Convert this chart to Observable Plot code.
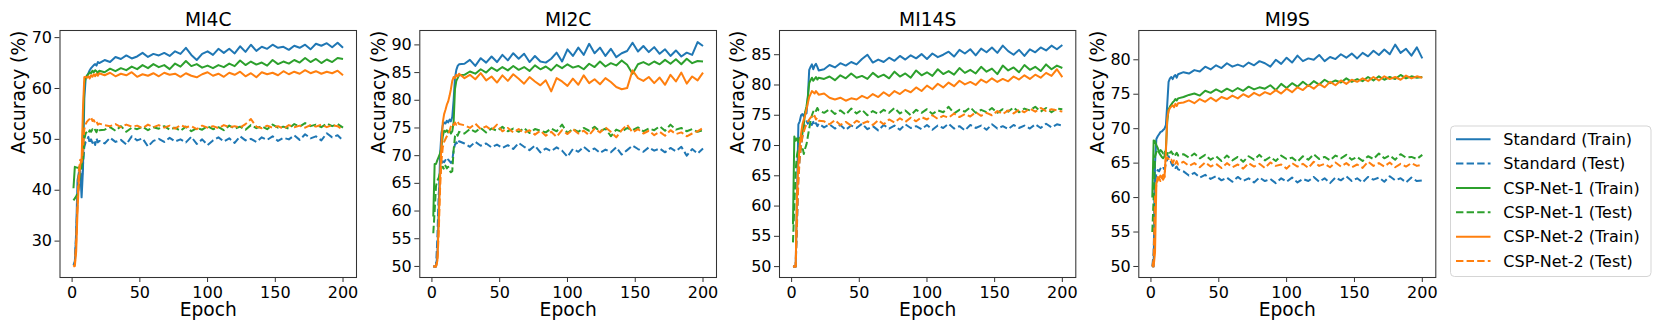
<!DOCTYPE html>
<html>
<head>
<meta charset="utf-8">
<script src="https://cdn.jsdelivr.net/npm/d3@7"></script>
<script src="https://cdn.jsdelivr.net/npm/@observablehq/plot@0.6"></script>
<style>
  body { margin: 0; background: #fff; font-family: "DejaVu Sans", sans-serif; }
  #root { position: relative; width: 1661px; height: 332px; overflow: hidden; background: #fff; }
  .panel { position: absolute; top: 0; }
  #legend { position: absolute; left: 1440px; top: 116px; }
</style>
</head>
<body>
<div id="root"></div>
<script>
// ---------- data ----------
const EPOCHS = [1,2,3,4,5,6,7,8,9,10,11,12,13,14,15,16,17,18,19,20,
  24,28,32,36,40,44,48,52,56,60,64,68,72,76,80,84,88,92,96,100,
  104,108,112,116,120,124,128,132,136,140,144,148,152,156,160,164,168,172,176,180,
  184,188,192,196,200];

const PANEL_TITLES = ["MI4C", "MI2C", "MI14S", "MI9S"];
const SERIES_NAMES = ["Standard (Train)", "Standard (Test)", "CSP-Net-1 (Train)", "CSP-Net-1 (Test)", "CSP-Net-2 (Train)", "CSP-Net-2 (Test)"];
const X_TICKS = [0, 50, 100, 150, 200];
const Y_TICKS_MI4C = [30, 40, 50, 60, 70];
const Y_TICKS_MI2C = [50, 55, 60, 65, 70, 75, 80, 85, 90];
const Y_TICKS_MI14S = [50, 55, 60, 65, 70, 75, 80, 85];
const Y_TICKS_MI9S = [50, 55, 60, 65, 70, 75, 80];

// MI4C
const mi4c_stdTrain = [25.3,25.5,32,42,43.5,43.8,38.6,44,58,62,62.5,63,63.6,64,64.3,64.6,64.8,64.5,65.2,65.0,
  65.6,65.2,66.2,65.8,66.5, 65.9,66.3,67.0,66.2,66.8, 66.5,67.0,66.4,67.3,66.8, 68.0,66.6,65.6,66.8,67.3,
  66.6,67.8,67.0,67.8,66.9, 68.3,67.2,68.6,67.4,68.2, 67.8,68.6,68.0,68.2,67.6, 68.4,68.0,68.6,67.7,68.8, 68.4,68.9,68.1,69.0,68.0];
const mi4c_stdTest = [25.3,26,31,38,41,43,42,45,48.5,49.5,49.8,50.5,49.2,50.0,49.3,49.8,48.9,50.2,49.4,49.7,
  49.2,50.3,49.5,49.9,49.0, 50.6,49.8,50.2,48.6,49.7, 50.1,49.5,50.3,49.6,50.0, 49.4,50.5,49.1,50.0,48.9,
  49.8,50.4,49.6,50.2,49.3, 50.6,49.8,50.1,49.5,50.4, 49.9,50.6,49.7,50.3,50.0, 50.8,49.9,51.0,50.2,50.6, 49.8,51.2,50.4,50.8,49.8];
const mi4c_c1Train = [40.4,44.6,44.5,44.4,44.5,44.2,44.4,52,61,62,62.5,62.8,63.2,63.0,63.5,63.2,63.6,63.4,63.0,63.5,
  63.2,63.9,63.4,64.0,63.6, 64.3,63.8,64.6,64.0,64.8, 64.2,64.6,63.8,64.9,64.3, 65.4,64.4,64.8,64.1,64.5,
  64.0,64.6,64.2,64.9,64.4, 65.5,64.6,65.3,64.7,65.1, 64.5,65.6,64.8,65.3,64.9, 65.6,65.1,66.0,65.2,65.8, 65.0,65.7,65.2,66.0,65.8];
const mi4c_c1Test = [38,38.4,38.8,39.5,41,44,45.5,46,50,51.2,51.5,51.2,51.8,51.5,52.0,51.6,51.9,51.4,52.2,51.8,
  51.9,52.4,51.7,52.6,51.5, 52.3,52.0,52.5,51.8,52.4, 52.1,52.6,51.9,52.3,51.7, 52.5,51.6,52.2,51.9,52.6,
  52.0,52.4,51.8,52.7,52.1, 52.5,51.9,52.8,52.2,52.6, 52.0,52.9,52.3,52.5,52.1, 53.0,52.5,53.2,52.6,52.9, 52.4,53.1,52.6,53.0,52.3];
const mi4c_c2Train = [25,25.1,28,36,42,45,46,56,62.2,62.3,62.1,62.4,62.0,62.6,62.3,62.8,62.4,62.9,62.5,63.0,
  62.6,63.1,62.4,62.9,62.6, 63.2,62.3,62.8,62.5,63.0, 62.4,63.1,62.7,62.9,62.3, 63.0,62.5,62.2,62.8,63.2,
  62.5,62.9,62.3,63.1,62.7, 63.3,62.4,63.0,62.2,63.2, 62.8,63.1,62.6,63.4,62.8, 63.3,62.9,63.6,63.0,63.4, 62.9,63.3,63.0,63.5,62.6];
const mi4c_c2Test = [25,25.4,30,38,44,46,45.5,48,52,53.0,53.5,53.8,54.0,54.4,53.6,53.8,53.2,53.5,52.9,53.1,
  52.8,52.6,53.0,52.4,52.9, 52.5,52.7,52.2,52.9,52.4, 52.8,52.3,52.7,52.1,52.8, 52.4,52.6,52.0,52.7,52.3,
  52.6,52.2,52.8,52.4,52.6, 52.3,53.0,54.0,52.5,52.2, 52.7,52.3,52.6,52.1,52.8, 52.4,52.7,52.3,52.8,52.5, 52.9,52.4,52.8,52.6,51.8];

// MI2C
const mi2c_stdTrain = [50,50,50,52,60,70,74,75.5,76,75.8,76.3,76.0,76.5,76.2,77,80,84,85.5,86.2,86.5,
  86.6,87.3,86.2,87.6,86.8, 87.9,86.9,88.2,87.2,88.5, 87.5,88.4,86.9,88.0,87.0, 86.8,87.5,88.6,87.0,89.2,
  88.0,89.5,88.2,90.2,88.5, 89.5,88.0,89.3,87.8,88.5, 88.9,90.4,88.8,89.8,88.7, 89.6,88.4,89.2,88.0,89.0, 87.9,88.6,88.2,90.5,89.8];
const mi2c_stdTest = [50,50,50,55,63,66,68.5,69,68.8,69.2,68.9,69.3,69.0,68.7,69.1,71,72,72.4,72.0,72.6,
  72.2,71.6,72.5,71.8,72.2, 71.5,72.0,71.4,71.9,71.2, 72.3,71.6,71.0,71.8,70.6, 71.3,70.8,71.5,70.9,69.8,
  71.2,70.7,71.6,70.8,71.3, 70.5,71.1,70.6,71.5,70.2, 71.0,71.8,71.2,70.7,71.5, 70.9,71.3,70.6,71.4,70.8, 71.6,70.0,71.2,70.4,71.3];
const mi2c_c1Train = [59,68.5,68.5,69.2,69.8,70.4,71.5,73.5,74.5,74.3,74.6,74.2,74.5,74.0,74.4,76,82,83.5,84.0,84.5,
  84.6,85.2,84.8,85.6,85.0, 85.9,85.3,86.0,85.4,86.2, 85.5,86.0,85.3,86.3,85.6, 86.1,85.4,86.4,85.8,86.5,
  85.9,86.2,85.6,86.6,86.0, 87.0,86.1,86.7,86.3,87.2, 86.4,84.8,86.5,86.9,86.4, 87.0,86.5,87.3,86.6,87.4, 86.5,87.5,86.7,87.1,87.0];
const mi2c_c1Test = [56,60,64.5,65.5,66,67,67.8,68,67.5,68.2,67.7,68.0,67.3,67.0,67.2,71,73.5,74.0,73.6,74.3,
  74.0,74.8,74.3,75.0,74.2, 74.9,74.5,75.2,74.4,74.9, 74.3,75.0,74.1,74.8,74.5, 74.2,74.9,74.4,75.6,74.1,
  74.8,74.3,75.0,74.5,75.2, 74.4,74.9,73.5,74.7,74.3, 75.0,74.6,75.1,74.4,74.9, 74.6,75.3,74.5,75.6,74.7, 75.0,74.4,74.8,74.3,74.6];
const mi2c_c2Train = [50,50,50,51,58,66,72,76,77.5,78.3,79.2,79.8,80.8,82,83.5,84.2,84.0,84.6,84.3,84.8,
  84.0,84.6,83.8,84.9,83.6, 84.3,83.2,84.5,83.5,84.7, 83.9,83.0,84.2,83.4,82.7, 83.6,81.6,84.0,83.4,82.6,
  83.9,82.8,84.5,83.1,83.8, 82.9,84.0,83.3,82.4,82.0, 82.2,85.4,84.0,83.5,84.2, 83.1,84.1,82.8,84.6,83.4, 85.0,83.0,84.3,83.6,85.0];
const mi2c_c2Test = [50,50,50,51,56,64,69,71.5,72.5,73,73.5,74,74.5,75.3,75.8,75.5,76.0,75.6,76.1,75.7,
  75.5,75.0,75.8,74.8,75.3, 74.6,75.6,74.4,75.0,74.2, 74.8,74.1,74.6,73.8,74.5, 73.6,74.3,73.4,74.6,73.9,
  74.8,74.0,74.5,73.7,74.9, 74.2,75.1,74.3,73.3,74.6, 75.6,74.2,74.8,74.0,74.5, 73.7,74.3,73.6,74.6,73.9, 74.2,73.5,74.0,74.4,75.0];

// MI14S
const mi14s_stdTrain = [50,50,50,62,73.5,74,75,75.2,74.8,75.5,75.3,78,82.5,83.0,83.4,82.6,83.2,83.5,83.0,82.4,
  82.6,83.3,82.9,83.6,83.2, 83.8,83.4,84.3,85.0,83.7, 84.2,83.8,84.5,84.0,84.8, 84.2,84.9,84.4,85.1,84.3,
  85.2,84.6,85.0,85.5,84.7, 85.8,85.2,85.9,84.9,86.0, 85.4,86.2,85.3,86.5,85.6, 85.0,85.8,84.8,85.9,85.4, 86.2,85.7,86.5,85.9,86.6];
const mi14s_stdTest = [50,50,50,57,65,68,70,71.5,72.5,73.5,74.0,73.6,74.2,73.8,73.4,73.9,73.3,73.7,73.2,73.6,
  73.0,73.5,72.8,73.4,72.6, 73.3,72.9,73.6,72.7,73.2, 72.5,73.4,72.8,73.3,72.6, 73.5,72.9,73.2,72.7,73.4,
  72.6,73.3,72.9,73.6,72.8, 73.2,72.5,73.4,72.9,73.3, 72.6,73.5,72.8,73.2,72.7, 73.4,72.9,73.3,72.8,73.5, 72.9,73.6,73.0,73.5,73.3];
const mi14s_c1Train = [57,71.5,70.8,71.2,70.6,71.3,71.0,72.0,73.5,75.5,76.5,78,80.3,80.8,81.2,80.7,81.0,81.3,80.9,81.2,
  81.0,81.4,80.8,81.6,81.1, 81.9,81.2,81.5,81.0,82.0, 81.3,81.7,81.1,82.2,81.4, 81.9,81.2,82.4,81.6,82.1,
  81.5,82.6,81.8,82.3,81.7, 82.8,82.0,82.5,81.9,83.0, 82.2,82.7,81.8,83.2,82.4, 82.9,82.1,83.3,82.5,83.0, 82.3,83.4,82.6,83.2,82.8];
const mi14s_c1Test = [54,60,66,68.5,69.5,70.0,69.4,69.8,68.6,69.5,70.2,71.5,72.8,74.0,75.0,75.6,76.0,75.7,76.2,75.8,
  75.4,76.0,75.2,75.8,75.1, 76.1,75.3,75.9,75.0,75.7, 75.2,75.9,75.4,76.2,75.3, 75.8,75.0,75.9,75.4,76.0,
  75.2,75.8,75.5,76.4,75.3, 75.9,75.6,76.3,75.4,75.9, 75.5,76.2,75.4,76.0,75.6, 76.3,75.5,76.1,75.8,76.4, 75.6,76.2,75.5,76.1,76.0];
const mi14s_c2Train = [50,50,50,62,67,70,72,73.5,74.3,75.0,76,77,78,78.5,79.0,78.8,78.6,79.0,78.7,78.4,
  78.6,77.9,77.6,77.9,77.4, 77.8,77.6,78.2,77.8,78.5, 78.0,78.8,78.2,79.0,78.5, 79.2,78.8,79.6,79.0,79.9,
  79.3,80.2,79.6,80.4,79.8, 80.7,80.1,80.5,80.0,80.9, 80.4,81.1,80.5,81.0,80.6, 81.4,80.9,81.6,81.0,81.7, 81.2,82.0,81.5,82.6,81.3];
const mi14s_c2Test = [50,50,50,58,64,68,70,71.5,72.3,73,73.5,74,74.3,74.6,74.8,74.5,74.9,74.3,74.6,74.1,
  74.0,73.5,74.2,73.4,73.9, 73.3,74.1,73.6,74.0,73.4, 74.2,73.5,74.3,73.8,74.5, 73.9,74.6,74.0,74.7,74.3,
  75.0,74.4,74.9,74.6,75.3, 74.7,75.2,74.8,75.5,74.9, 75.4,75.0,75.7,75.2,75.8, 75.3,75.9,75.5,76.1,75.6, 76.2,75.7,76.0,75.8,75.6];

// MI9S
const mi9s_stdTrain = [50,50,65,68.5,68.9,69.2,69.5,69.6,69.8,70.0,70.5,73.5,76.8,77.3,77.5,77.2,77.6,77.8,77.4,77.9,
  78.2,78.0,78.5,78.3,79.0, 78.6,79.2,78.8,79.5,79.0, 79.3,79.0,79.6,79.2,79.8, 79.5,79.0,80.0,79.4,80.3,
  79.6,80.6,79.8,80.2,80.0, 80.7,79.8,80.4,80.1,80.8, 80.3,80.9,80.2,81.0,80.5, 81.3,80.7,81.5,80.8,82.2, 81.0,81.6,80.6,81.8,80.2];
const mi9s_stdTest = [50,52,62,63.5,64.0,63.8,64.2,64.0,64.3,64.1,65.0,65.5,66.0,65.6,65.0,64.6,64.8,64.3,64.5,64.1,
  63.8,63.2,63.6,62.9,63.3, 62.7,63.1,62.5,62.9,62.3, 63.0,62.4,62.8,62.2,62.9, 62.4,62.7,62.1,62.8,62.3,
  62.9,62.2,62.7,62.4,63.0, 62.3,62.8,62.1,62.9,62.5, 63.1,62.4,62.8,62.2,63.0, 62.6,62.9,62.3,63.1,62.5, 62.8,62.2,62.9,62.4,62.5];
const mi9s_c1Train = [60,68.3,68.2,67.6,67.2,66.5,66.2,65.9,65.7,66.0,67.0,71.0,72.8,73.2,73.5,73.8,74.0,74.3,74.1,74.4,
  74.6,74.9,75.1,74.8,75.5, 75.2,75.7,75.3,75.8,75.4, 75.9,75.5,76.1,75.7,76.0, 75.8,76.3,75.6,76.5,75.9,
  76.6,76.1,76.8,76.2,76.9, 76.4,77.1,76.6,77.0,76.7, 77.3,76.8,77.2,76.9,77.5, 77.0,77.6,77.1,77.5,77.2, 77.8,77.3,77.6,77.4,77.5];
const mi9s_c1Test = [55,60,66,66.6,66.8,66.5,66.9,66.7,66.4,66.8,66.5,66.2,66.8,66.5,66.7,66.3,66.6,66.2,66.5,66.1,
  66.3,65.8,66.4,65.7,66.2, 65.5,66.0,65.3,66.1,65.4, 65.9,65.2,66.0,65.5,66.2, 65.4,65.9,65.3,66.1,65.6,
  65.8,65.2,66.0,65.5,66.3, 65.6,65.9,65.4,66.1,65.7, 66.2,65.5,65.9,65.3,66.0, 65.6,66.4,65.7,66.1,65.5, 66.3,65.8,65.9,65.6,66.2];
const mi9s_c2Train = [50,50,52,62,63.0,62.8,63.2,62.9,63.3,63.0,66.5,71.5,72.6,73.0,73.2,73.4,73.1,73.6,73.3,73.7,
  73.8,74.1,73.7,74.3,73.9, 74.5,74.0,74.6,74.3,74.8, 74.4,75.0,74.6,75.2,74.8, 75.3,75.0,75.6,75.1,75.8,
  75.3,76.0,75.6,76.3,75.8, 76.5,76.0,76.8,76.3,77.0, 76.5,77.1,76.8,77.3,76.9, 77.5,77.0,77.6,77.2,77.5, 77.1,77.7,77.3,77.6,77.4];
const mi9s_c2Test = [50,51,60,62,62.5,62.8,62.4,62.9,62.6,63.0,65.5,65.8,65.6,65.3,65.5,65.0,65.4,64.9,65.3,64.8,
  65.2,64.6,65.0,64.4,65.1, 64.5,64.9,64.3,65.0,64.4, 64.8,64.2,65.0,64.5,64.9, 64.3,65.1,64.6,64.8,64.2,
  65.0,64.5,64.9,64.3,65.2, 64.6,64.9,64.4,65.1,64.5, 65.0,64.4,64.8,64.3,65.2, 64.6,65.0,64.5,65.1,64.4, 64.9,64.5,65.0,64.6,64.8];

// ---------- styling / layout ----------
const STYLES = [
  {color: "#1f77b4", dash: null},
  {color: "#1f77b4", dash: "7.4,3.2"},
  {color: "#2ca02c", dash: null},
  {color: "#2ca02c", dash: "7.4,3.2"},
  {color: "#ff7f0e", dash: null},
  {color: "#ff7f0e", dash: "7.4,3.2"}
];

const PANELS = [
  {title: PANEL_TITLES[0], series: [mi4c_stdTrain, mi4c_stdTest, mi4c_c1Train, mi4c_c1Test, mi4c_c2Train, mi4c_c2Test], yDomain: [22.85, 71.4], yTicks: Y_TICKS_MI4C, left: 0, ml: 59.5, mr: 4},
  {title: PANEL_TITLES[1], series: [mi2c_stdTrain, mi2c_stdTest, mi2c_c1Train, mi2c_c1Test, mi2c_c2Train, mi2c_c2Test], yDomain: [48.0, 92.6], yTicks: Y_TICKS_MI2C, left: 360, ml: 59.3, mr: 4},
  {title: PANEL_TITLES[2], series: [mi14s_stdTrain, mi14s_stdTest, mi14s_c1Train, mi14s_c1Test, mi14s_c2Train, mi14s_c2Test], yDomain: [48.2, 89.0], yTicks: Y_TICKS_MI14S, left: 720, ml: 59, mr: 4.7},
  {title: PANEL_TITLES[3], series: [mi9s_stdTrain, mi9s_stdTest, mi9s_c1Train, mi9s_c1Test, mi9s_c2Train, mi9s_c2Test], yDomain: [48.4, 84.25], yTicks: Y_TICKS_MI9S, left: 1080, ml: 58.3, mr: 4.7}
];

const root = document.getElementById("root");
const LABEL_SIZE = 18.67;

PANELS.forEach(p => {
  p.series.forEach((arr, k) => {
    if (arr.length !== EPOCHS.length) throw new Error(`length mismatch ${p.title} series ${k}: ${arr.length}`);
  });
  const marks = [];
  p.series.forEach((arr, k) => {
    const data = EPOCHS.map((e, i) => ({epoch: e, value: arr[i]}));
    marks.push(Plot.line(data, {
      x: "epoch", y: "value",
      stroke: STYLES[k].color, strokeWidth: 2,
      strokeDasharray: STYLES[k].dash,
      strokeLinejoin: "round", strokeLinecap: "butt"
    }));
  });
  marks.push(Plot.frame({stroke: "#333", strokeWidth: 1.05}));
  marks.push(Plot.axisX({ticks: X_TICKS, tickSize: 5, tickPadding: 4, fontSize: 16, label: null, stroke: "#333"}));
  marks.push(Plot.axisY({ticks: p.yTicks, tickSize: 5, tickPadding: 3, fontSize: 16, label: null, stroke: "#333"}));
  marks.push(Plot.text([p.title], {text: d => d, frameAnchor: "top", dy: -5, lineAnchor: "bottom", fontSize: LABEL_SIZE, fill: "black"}));
  marks.push(Plot.text(["Epoch"], {text: d => d, frameAnchor: "bottom", dy: 38.5, lineAnchor: "bottom", fontSize: LABEL_SIZE, fill: "black"}));
  marks.push(Plot.text(["Accuracy (%)"], {text: d => d, frameAnchor: "left", dx: -41.2, rotate: -90, lineAnchor: "middle", fontSize: LABEL_SIZE, fill: "black"}));

  const chart = Plot.plot({
    width: 360, height: 332,
    marginLeft: p.ml, marginRight: p.mr, marginTop: 30, marginBottom: 55,
    x: {domain: [-8.95, 209.95]},
    y: {domain: p.yDomain},
    style: {fontFamily: "DejaVu Sans", fontSize: "16px", background: "transparent", overflow: "visible", color: "black"},
    marks
  });
  chart.classList.add("panel");
  chart.style.left = p.left + "px";
  chart.style.position = "absolute";
  chart.style.top = "0px";
  root.appendChild(chart);
});

// ---------- legend ----------
const lg = d3.create("svg").attr("id", "legend").attr("width", 221).attr("height", 170)
  .style("position", "absolute").style("left", "1440px").style("top", "116px");
const ox = 1440, oy = 116;
lg.append("rect").attr("x", 1450.5 - ox).attr("y", 126 - oy).attr("width", 200.5).attr("height", 150.5)
  .attr("rx", 4).attr("fill", "white").attr("fill-opacity", 0.8).attr("stroke", "#d5d5d5").attr("stroke-width", 1);
const rowY = [139.3, 163.6, 188.0, 212.3, 236.7, 261.0];
SERIES_NAMES.forEach((name, k) => {
  const y = rowY[k] - oy;
  lg.append("line").attr("x1", 1456 - ox).attr("x2", 1490.5 - ox).attr("y1", y).attr("y2", y)
    .attr("stroke", STYLES[k].color).attr("stroke-width", 2)
    .attr("stroke-dasharray", STYLES[k].dash);
  lg.append("text").attr("x", 1503.3 - ox).attr("y", y).attr("dy", "0.36em")
    .attr("font-family", "DejaVu Sans").attr("font-size", 16).attr("fill", "black").text(name);
});
root.appendChild(lg.node());
</script>
</body>
</html>
